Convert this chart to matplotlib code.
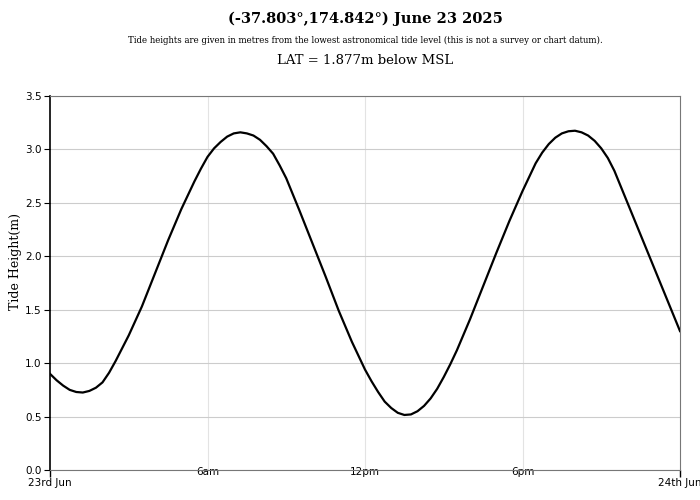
import numpy as np
import matplotlib
matplotlib.use("Agg")
import matplotlib.pyplot as plt

# ---------------- DATA ----------------
# hours after midnight, 23 Jun 2025, with tide height (m above LAT)
hours = [0, 0.25, 0.5, 0.75, 1, 1.25, 1.5, 1.75, 2, 2.25, 2.5, 3, 3.5, 4, 4.5,
         5, 5.25, 5.5, 5.75, 6, 6.25, 6.5, 6.75, 7, 7.25, 7.5, 7.75, 8, 8.25,
         8.5, 8.75, 9, 9.5, 10, 10.5, 11, 11.5, 11.75, 12, 12.25, 12.5, 12.75,
         13, 13.25, 13.5, 13.75, 14, 14.25, 14.5, 14.75, 15, 15.25, 15.5, 16,
         16.5, 17, 17.5, 18, 18.25, 18.5, 18.75, 19, 19.25, 19.5, 19.75, 20,
         20.25, 20.5, 20.75, 21, 21.25, 21.5, 21.75, 22, 22.5, 23, 23.5, 24]
heights = [0.90, 0.84, 0.79, 0.75, 0.73, 0.725, 0.74, 0.77, 0.82, 0.91, 1.02,
           1.26, 1.53, 1.84, 2.15, 2.44, 2.57, 2.70, 2.82, 2.93, 3.01, 3.07,
           3.12, 3.15, 3.16, 3.15, 3.13, 3.09, 3.03, 2.96, 2.85, 2.73, 2.43,
           2.12, 1.81, 1.49, 1.20, 1.07, 0.94, 0.83, 0.73, 0.64, 0.58, 0.535,
           0.515, 0.52, 0.55, 0.60, 0.67, 0.76, 0.87, 0.99, 1.12, 1.41, 1.72,
           2.03, 2.33, 2.61, 2.74, 2.87, 2.97, 3.05, 3.11, 3.15, 3.17, 3.175,
           3.16, 3.13, 3.08, 3.01, 2.92, 2.80, 2.65, 2.50, 2.20, 1.90, 1.60,
           1.30]

day_ticks = [0, 24]
day_labels = ["23rd Jun", "24th Jun"]
hour_ticks = [6, 12, 18]
hour_labels = ["6am", "12pm", "6pm"]
y_ticks = [0.0, 0.5, 1.0, 1.5, 2.0, 2.5, 3.0, 3.5]

title = "(-37.803°,174.842°) June 23 2025"
subtitle = ("Tide heights are given in metres from the lowest astronomical tide level "
            "(this is not a survey or chart datum).")
lat_text = "LAT = 1.877m below MSL"
# --------------------------------------

fig = plt.figure(figsize=(7, 5), dpi=100)
ax = fig.add_axes([50 / 700, 30 / 500, 630 / 700, 374 / 500])

ax.plot(hours, heights, color="black", lw=1.6, zorder=3)

ax.set_xlim(0, 24)
ax.set_ylim(0, 3.5)

ax.set_yticks(y_ticks)
ax.set_yticklabels([f"{v:.1f}" for v in y_ticks])
ax.tick_params(axis="y", length=4, width=0.8, labelsize=7.5, pad=2)

ax.set_xticks(day_ticks)
ax.set_xticklabels(day_labels)
ax.tick_params(axis="x", which="major", length=5, width=1, labelsize=7.5, pad=1)
ax.set_xticks(hour_ticks, minor=True)
ax.set_xticklabels(hour_labels, minor=True)
ax.tick_params(axis="x", which="minor", length=0, labelsize=7.5, pad=-2)

ax.grid(axis="y", color="#cccccc", lw=0.8)
ax.grid(axis="x", which="minor", color="#e3e3e3", lw=0.8)
ax.set_axisbelow(True)

ax.spines["left"].set_color("black")
ax.spines["left"].set_linewidth(1.2)
for s in ["bottom", "top", "right"]:
    ax.spines[s].set_color("#777777")
    ax.spines[s].set_linewidth(0.8)

ax.set_ylabel("Tide Height(m)", family="DejaVu Serif", fontsize=9)
ax.yaxis.set_label_coords(-0.045, 0.557)

cx = (50 + 680) / 2 / 700
fig.text(cx, 1 - 19 / 500, title, family="DejaVu Serif", fontweight="bold",
         fontsize=10.5, ha="center", va="center")
fig.text(cx, 1 - 40 / 500, subtitle, family="DejaVu Serif", fontsize=6.2,
         ha="center", va="center")
fig.text(cx, 1 - 60 / 500, lat_text, family="DejaVu Serif", fontsize=9.5,
         ha="center", va="center")

fig.savefig("out.png", dpi=100)
